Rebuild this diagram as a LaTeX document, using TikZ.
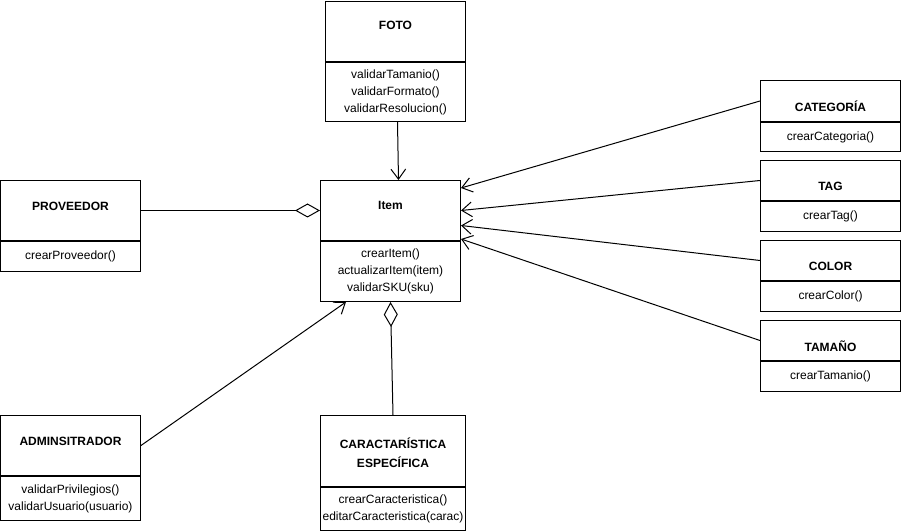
\documentclass[tikz,border=0pt]{standalone}
\usepackage{fontspec}
\setmainfont{Liberation Sans}
\usetikzlibrary{arrows.meta}
\tikzset{
  hdr/.style={draw, line width=0.75pt, inner sep=0pt, fill=white},
  bdy/.style={draw, line width=0.75pt, inner sep=0pt, align=center, font=\fontsize{9}{12.75}\selectfont},
  ttl/.style={inner sep=0pt, align=center, font=\fontsize{9}{14.25}\selectfont\bfseries},
  assoc/.style={line width=0.75pt, -{Straight Barb[length=7.5pt,width=11pt,line width=0.75pt]}},
  aggr/.style={line width=0.75pt, -{Diamond[open,length=18.75pt,width=10.5pt,line width=0.75pt,fill=white]}}
}
% class box: name, x, y, width, header height, body height, title offset, title, methods
\newcommand{\umlcls}[9]{%
  \node[hdr, minimum width=#4, minimum height=#5, anchor=north west] (#1) at (#2,#3) {};
  \node[ttl] (#1-t) at ([yshift=-#7]#1.north) {#8};
  \node[bdy, minimum width=#4, minimum height=#6, anchor=north] (#1-m) at (#1.south) {#9};
}
\begin{document}
\begin{tikzpicture}[x=0.75pt,y=-0.75pt]
\useasboundingbox (0,0) rectangle (901,531);

\umlcls{foto}{325}{1}{105pt}{45pt}{44.25pt}{18pt}{FOTO}{validarTamanio()\\validarFormato()\\validarResolucion()}
\umlcls{item}{320}{180}{105pt}{45pt}{45pt}{18.75pt}{Item}{crearItem()\\actualizarItem(item)\\validarSKU(sku)}
\umlcls{prov}{0}{180}{105pt}{45pt}{22.5pt}{19.5pt}{PROVEEDOR}{crearProveedor()}
\umlcls{admin}{0}{415}{105pt}{45pt}{33pt}{19.5pt}{ADMINSITRADOR}{validarPrivilegios()\\validarUsuario(usuario)}
\umlcls{carac}{320}{415}{108.75pt}{53.25pt}{32.25pt}{28pt}{CARACTARÍSTICA\\ESPECÍFICA}{crearCaracteristica()\\editarCaracteristica(carac)}
\umlcls{cat}{760}{80}{105pt}{30.75pt}{21.75pt}{19.5pt}{CATEGORÍA}{crearCategoria()}
\umlcls{tag}{760}{160}{105pt}{30pt}{22.5pt}{19.5pt}{TAG}{crearTag()}
\umlcls{color}{760}{240}{105pt}{30pt}{22.5pt}{19.5pt}{COLOR}{crearColor()}
\umlcls{tam}{760}{320}{105pt}{30pt}{22.5pt}{19.5pt}{TAMAÑO}{crearTamanio()}

% dependencies pointing to Item
\draw[assoc] ([xshift=1.5pt]foto-m.south) -- ([xshift=6pt]item.north);
\draw[assoc] (cat.west) -- ([yshift=-6pt]item.north east);
\draw[assoc] (tag.west) -- (item.east);
\draw[assoc] (color.west) -- ([yshift=-11.25pt]item.east);
\draw[assoc] (tam.west) -- ([yshift=1.5pt]item.south east);
\draw[assoc] (admin.east) -- ([xshift=19.5pt]item-m.south west);

% aggregations
\draw[aggr] (prov.east) -- (item.west);
\draw[aggr] (carac.north) -- (item-m.south);
\end{tikzpicture}
\end{document}
